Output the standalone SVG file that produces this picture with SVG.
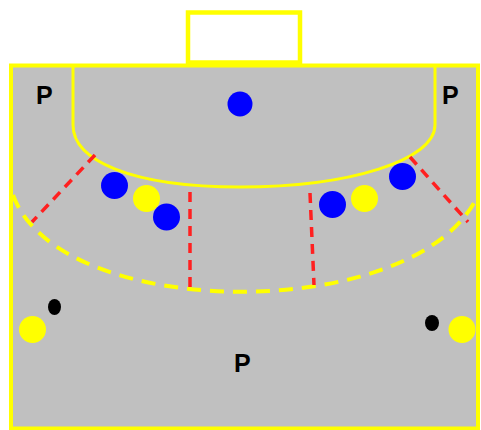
<svg xmlns="http://www.w3.org/2000/svg" width="481" height="430" viewBox="0 0 481 430">
<style>
.court{fill:#c0c0c0;stroke:#ffff00;stroke-width:4}
.goal{fill:#ffffff;stroke:#ffff00;stroke-width:4.5}
.line6{fill:none;stroke:#ffff00;stroke-width:3}
.line9{fill:none;stroke:#ffff00;stroke-width:4;stroke-dasharray:14 9}
.red{fill:none;stroke:#ff2020;stroke-width:3.5;stroke-dasharray:10 7}
.blue{fill:#0000ff}
.yel{fill:#ffff00}
.blk{fill:#000000}
.lbl{font-family:"Liberation Sans",Arial,sans-serif;font-weight:bold;font-size:25px;fill:#000}
</style>
<rect width="481" height="430" fill="#ffffff"/>
<g id="court">
<rect class="court" x="11" y="65.5" width="467" height="363"/>
</g>
<g id="goal">
<rect class="goal" x="188" y="12.5" width="112" height="50"/>
</g>
<g id="goal-area">
<path class="line6" d="M73,67 L73,125 C73,160 130,187 240,187 C350,187 435,160 435,125 L435,67"/>
</g>
<g id="free-throw-line">
<path class="line9" d="M13,195 C60,324 420,324 478,195"/>
</g>
<g id="connectors">
<line class="red" x1="95" y1="155" x2="32" y2="222"/>
<line class="red" x1="190" y1="192" x2="190" y2="288"/>
<line class="red" x1="310" y1="193" x2="314" y2="285"/>
<line class="red" x1="410" y1="157" x2="468" y2="222"/>
</g>
<g id="players">
<circle id="b1" class="blue" cx="240" cy="104" r="12.5"/>
<circle id="b2" class="blue" cx="114.5" cy="185.5" r="13.5"/>
<circle id="y1" class="yel" cx="146.5" cy="198.5" r="13.5"/>
<circle id="b3" class="blue" cx="166.5" cy="217" r="13.5"/>
<circle id="b4" class="blue" cx="332.5" cy="204.5" r="13.5"/>
<circle id="y2" class="yel" cx="364.5" cy="198.5" r="13.5"/>
<circle id="b5" class="blue" cx="402.5" cy="176.5" r="13.5"/>
<circle id="y3" class="yel" cx="32.5" cy="329.5" r="13.5"/>
<ellipse id="k1" class="blk" cx="54.5" cy="307" rx="6.5" ry="8"/>
<circle id="y4" class="yel" cx="462" cy="329.5" r="13.5"/>
<ellipse id="k2" class="blk" cx="432" cy="323" rx="7" ry="8"/>
</g>
<g id="labels">
<text class="lbl" x="36" y="104">P</text>
<text class="lbl" x="442" y="104">P</text>
<text class="lbl" x="234" y="372">P</text>
</g>
</svg>
